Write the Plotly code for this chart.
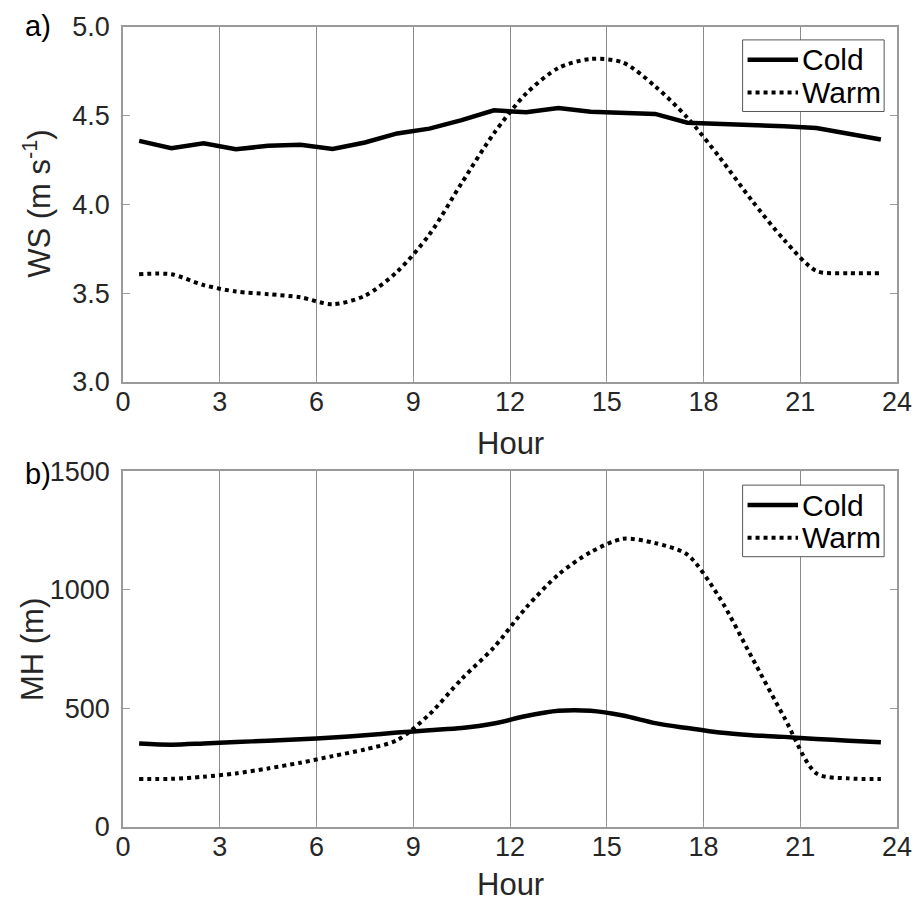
import plotly.graph_objects as go

hours = [h + 0.5 for h in range(24)]
xticks = [0, 3, 6, 9, 12, 15, 18, 21, 24]

ws_cold = [4.358, 4.317, 4.345, 4.311, 4.330, 4.336, 4.313, 4.349, 4.400, 4.427,
           4.475, 4.530, 4.520, 4.543, 4.522, 4.515, 4.510, 4.460, 4.455, 4.450,
           4.440, 4.430, 4.395, 4.366]
ws_warm = [3.606, 3.606, 3.545, 3.509, 3.494, 3.476, 3.437, 3.485, 3.620, 3.830,
           4.120, 4.400, 4.625, 4.769, 4.820, 4.800, 4.666, 4.489, 4.265, 4.022,
           3.800, 3.625, 3.612, 3.612]
mh_cold = [352, 347, 352, 358, 364, 370, 377, 387, 398, 408,
           417, 436, 468, 490, 490, 470, 438, 417, 398, 387,
           380, 371, 364, 357]
mh_warm = [202, 203, 212, 226, 247, 271, 299, 327, 366, 475,
           624, 757, 925, 1064, 1159, 1215, 1197, 1148, 966, 715,
           463, 226, 205, 202]
series_names = ["Cold", "Warm"]

FONT = "Liberation Sans, Arial, sans-serif"
TXT = "#262626"
AX = "#9a9a9a"
GRID = "#8a8a8a"
TFS = 27   # tick font
LFS = 31   # label font
GFS = 30   # legend font

fig = go.Figure()
fig.add_trace(go.Scatter(x=hours, y=ws_cold, name=series_names[0], mode="lines",
                         line=dict(color="black", width=4.5),
                         xaxis="x", yaxis="y", showlegend=False))
fig.add_trace(go.Scatter(x=hours, y=ws_warm, name=series_names[1], mode="lines",
                         line=dict(color="black", width=4, dash="dot", shape="spline", smoothing=0.8),
                         xaxis="x", yaxis="y", showlegend=False))
fig.add_trace(go.Scatter(x=hours, y=mh_cold, name=series_names[0], mode="lines",
                         line=dict(color="black", width=4.5, shape="spline", smoothing=0.8),
                         xaxis="x2", yaxis="y2", showlegend=False))
fig.add_trace(go.Scatter(x=hours, y=mh_warm, name=series_names[1], mode="lines",
                         line=dict(color="black", width=4, dash="dot", shape="spline", smoothing=0.8),
                         xaxis="x2", yaxis="y2", showlegend=False))

xcommon = dict(range=[0, 24], tickvals=xticks, showgrid=True, gridcolor=GRID, gridwidth=1,
               showline=True, linecolor=AX, linewidth=1.5, mirror=True, ticks="inside",
               ticklen=6, tickcolor=AX, zeroline=False, ticklabelstandoff=-5,
               tickfont=dict(family=FONT, size=TFS, color=TXT))
ycommon = dict(showgrid=False, showline=True, linecolor=AX, linewidth=1.5, mirror="ticks",
               ticks="inside", ticklen=7, tickcolor=AX, zeroline=False,
               tickfont=dict(family=FONT, size=TFS, color=TXT), ticklabelstandoff=6)

top_lo = (827 - 379) / 805
bot_hi = (827 - 469) / 805

fig.update_layout(
    width=924, height=904,
    margin=dict(l=123, r=19, t=22, b=77),
    paper_bgcolor="white", plot_bgcolor="white",
    showlegend=False,
    xaxis=dict(domain=[0, 1], anchor="y", **xcommon),
    yaxis=dict(domain=[top_lo, 1], anchor="x", range=[3, 5], tickvals=[3.0, 3.5, 4.0, 4.5, 5.0],
               tickformat=".1f", **ycommon),
    xaxis2=dict(domain=[0, 1], anchor="y2", **xcommon),
    yaxis2=dict(domain=[0, bot_hi], anchor="x2", range=[0, 1500], tickvals=[0, 500, 1000, 1500],
                **ycommon),
)

def px_x(p):
    return (p - 123) / 782

def px_y(p):
    return (827 - p) / 805

annos = [
    dict(text="a)", x=px_x(37), y=px_y(21), color="black", size=LFS - 2),
    dict(text="b)", x=px_x(37), y=px_y(472), color="black", size=LFS - 2),
    dict(text="WS (m s<sup>-1</sup>)", x=px_x(36), y=px_y(200), textangle=-90, color=TXT, size=LFS),
    dict(text="MH (m)", x=px_x(31), y=px_y(648), textangle=-90, color=TXT, size=LFS),
    dict(text="Hour", x=0.5, y=px_y(441), color=TXT, size=LFS),
    dict(text="Hour", x=0.5, y=px_y(885), color=TXT, size=LFS),
]
for a in annos:
    color = a.pop("color")
    size = a.pop("size")
    fig.add_annotation(xref="paper", yref="paper", showarrow=False,
                       xanchor="center", yanchor="middle",
                       font=dict(family=FONT, size=size, color=color), **a)

# legends (box, line samples, labels) for both panels
for dy in (0, 448):
    fig.add_shape(type="rect", xref="paper", yref="paper",
                  x0=px_x(749), x1=px_x(892), y0=px_y(35 + dy), y1=px_y(107 + dy),
                  line=dict(color="#555555", width=1), fillcolor="white", layer="above")
    for i, (name, dash, w) in enumerate(zip(series_names, ["solid", "dot"], [4.5, 4])):
        yc = 55 + 33 * i + dy
        fig.add_shape(type="line", xref="paper", yref="paper",
                      x0=px_x(754), x1=px_x(805), y0=px_y(yc), y1=px_y(yc),
                      line=dict(color="black", width=w, dash=dash), layer="above")
        fig.add_annotation(xref="paper", yref="paper", showarrow=False,
                           xanchor="left", yanchor="middle", x=px_x(807), y=px_y(yc),
                           text=name, font=dict(family=FONT, size=GFS, color="black"))

fig.write_html("out.html")
